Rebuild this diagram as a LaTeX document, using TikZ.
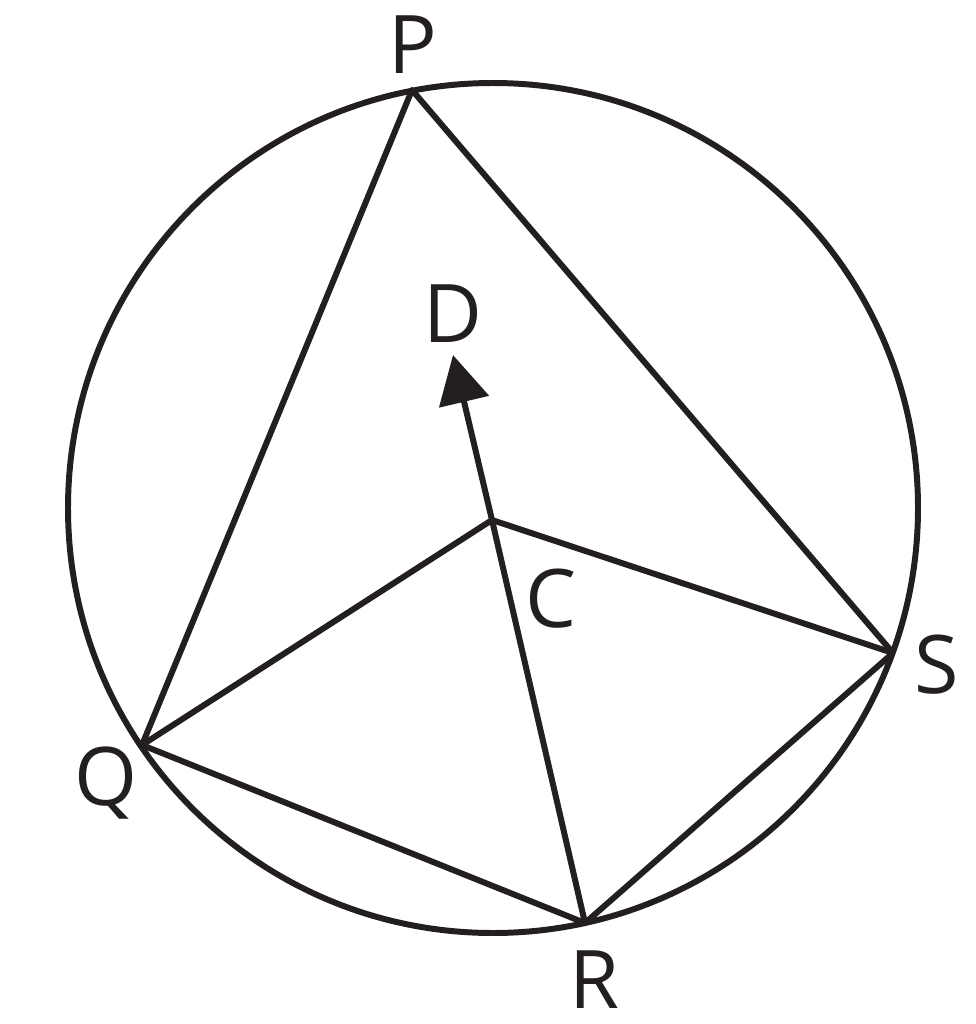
\documentclass[tikz,border=0pt]{standalone}
\usepackage{fontspec}
\setmainfont{Open Sans}
\usepackage{tikz}
\usetikzlibrary{arrows.meta, calc}
\definecolor{inkdark}{RGB}{35, 31, 32}
\tikzset{
    edge/.style={line width=1.7pt, draw=inkdark, line join=round},
    ptlabel/.style={text=inkdark, anchor=base, inner sep=0pt, font=\fontsize{23}{23}\selectfont}
}
\begin{document}
\begin{tikzpicture}[x=0.01cm, y=-0.01cm]
        \useasboundingbox (0,0) rectangle (975,1024);
        % 圆心与圆上的四个点
        \coordinate (O) at (493, 508);
        \coordinate (P) at (412, 90);
        \coordinate (Q) at (142, 745);
        \coordinate (R) at (585, 923);
        \coordinate (S) at (893, 653);
        \coordinate (C) at (492, 520);
        \coordinate (D) at (453, 355);

        % 外接圆
        \draw[edge] (O) circle[radius=425];

        % 三角形 PQS 与四边形 QCSR
        \draw[edge] (Q) -- (P) -- (S);
        \draw[edge] (Q) -- (C) -- (S);
        \draw[edge] (Q) -- (R) -- (S);
        \draw[edge] (R) -- (C);
        \draw[edge, -{Triangle[length=4.8mm, width=5mm]}] (C) -- (D);

        % 字母标注
        \node[ptlabel] (labP) at (413, 73) {P};
        \node[ptlabel] (labD) at (453, 342) {D};
        \node[ptlabel] (labC) at (551, 627) {C};
        \node[ptlabel] (labS) at (937, 693) {S};
        \node[ptlabel] (labQ) at (106, 805) {Q};
        \node[ptlabel] (labR) at (594, 1008) {R};
    \end{tikzpicture}
\end{document}
